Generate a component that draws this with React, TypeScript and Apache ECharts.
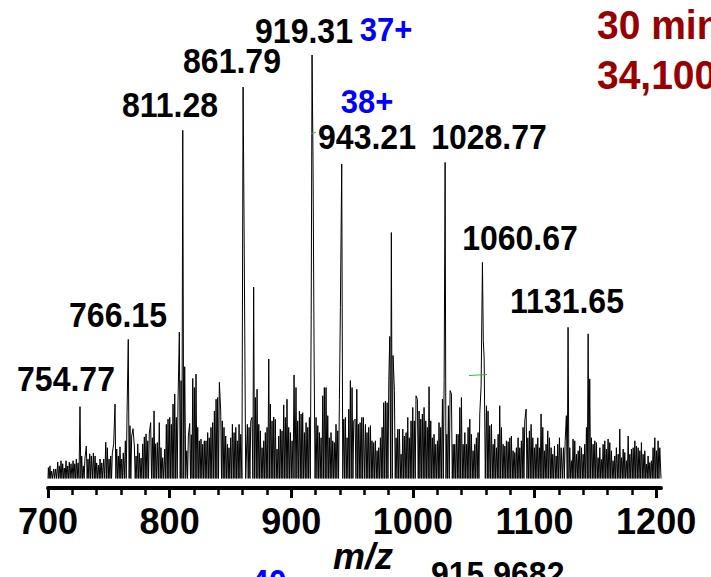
import React, { useEffect, useRef } from "react";
import * as echarts from "echarts";

// ---- data: [m/z, relative intensity %] ----
const peaks700 = [
  [700.3, 4.7], [701.6, 5.1], [703.0, 3.9], [704.7, 4.4], [706.3, 4.4], [708.0, 6.0], [709.3, 5.1], [710.7, 6.3],
  [712.1, 5.6], [713.4, 4.6], [714.8, 6.3], [716.2, 5.1], [717.5, 6.0], [718.9, 5.6], [720.6, 6.3], [722.0, 5.6],
  [723.3, 6.7], [724.7, 5.8], [726.3, 18.8], [727.7, 7.4], [729.0, 5.1], [730.4, 6.9], [731.5, 9.7], [732.9, 6.7],
  [734.3, 7.9], [735.6, 7.4], [737.3, 8.1], [738.7, 7.4], [740.0, 5.8], [741.4, 5.3], [742.8, 6.7], [744.2, 5.8],
  [745.8, 6.7], [747.5, 10.6], [748.8, 9.3], [750.2, 6.7], [751.6, 7.4], [752.9, 8.1], [754.0, 10.2], [755.1, 19.4],
  [756.5, 9.0], [757.8, 7.4], [759.2, 9.5], [760.6, 6.7], [761.9, 8.1], [763.6, 10.9], [765.0, 17.4], [766.0, 34.3],
  [767.4, 14.4], [768.8, 12.0], [769.9, 13.7], [771.0, 9.7], [772.4, 7.4], [773.8, 10.2], [775.1, 8.1], [776.5, 6.9],
  [777.9, 10.2], [779.2, 11.8], [780.6, 12.5], [782.0, 10.9], [783.3, 12.7],
];
const peaks800 = [
  [784.4, 15.1], [785.8, 11.6], [787.2, 17.8], [788.5, 10.2], [789.9, 10.5], [791.5, 15.1], [792.9, 9.3], [794.3, 7.0],
  [796.0, 9.0], [797.3, 14.7], [798.7, 15.9], [800.1, 16.3], [801.4, 14.7], [802.8, 19.4], [804.2, 21.7], [805.5, 16.3],
  [806.9, 20.1], [808.0, 36.0], [809.4, 24.8], [810.8, 82.6], [812.4, 28.0], [814.1, 8.6], [815.4, 12.0], [816.5, 14.9],
  [817.8, 12.3], [819.0, 25.3], [820.3, 23.2], [821.7, 26.3], [823.1, 14.0], [824.4, 10.9], [825.8, 11.3], [827.2, 10.1],
  [828.5, 10.9], [829.9, 10.9], [831.3, 12.8], [832.6, 11.6], [834.0, 14.0], [835.4, 15.1], [836.8, 17.8], [838.2, 20.5],
  [839.5, 20.9], [840.9, 24.4], [842.0, 17.8], [843.3, 15.5], [844.7, 14.0], [846.1, 12.0], [847.5, 10.1], [848.8, 9.3],
  [850.2, 11.6], [851.6, 14.7], [853.0, 12.8], [854.4, 14.0], [855.7, 10.9], [857.1, 14.7], [858.5, 12.4], [860.4, 92.6],
  [861.2, 60.7], [863.9, 14.7], [865.3, 14.0], [866.7, 15.5], [867.8, 16.3], [869.1, 46.4],
];
const peaks900 = [
  [870.5, 20.9], [871.9, 22.8], [873.3, 14.7], [874.6, 13.2], [876.0, 9.3], [877.4, 10.9], [878.7, 12.8], [880.1, 14.0],
  [881.5, 29.8], [882.8, 19.4], [884.2, 15.5], [885.6, 16.4], [886.9, 15.9], [888.3, 9.0], [889.7, 12.0], [891.0, 13.6],
  [892.4, 13.2], [893.8, 19.2], [895.1, 16.3], [896.5, 20.5], [897.9, 14.0], [899.3, 12.8], [900.7, 10.9], [902.3, 26.1],
  [903.9, 23.2], [905.3, 15.5], [906.7, 17.8], [908.1, 17.1], [909.4, 17.4], [910.8, 12.8], [912.2, 15.1], [913.6, 14.0],
  [914.9, 16.3], [916.4, 40.0], [917.1, 100.0], [917.9, 75.5], [918.8, 29.8], [920.4, 16.3], [921.8, 14.4], [923.1, 12.8],
  [924.5, 11.6], [925.9, 21.3], [927.2, 23.2], [928.6, 23.2], [930.0, 16.7], [931.3, 11.6], [932.7, 12.8], [934.1, 10.9],
  [935.4, 10.5], [936.8, 14.7], [938.2, 13.2], [939.6, 20.5], [940.4, 41.7], [941.5, 74.8], [943.2, 15.9], [944.5, 16.3],
  [945.9, 11.6], [947.3, 18.2], [948.6, 24.8], [950.0, 23.2], [951.4, 15.5],
];
const peaks1000 = [
  [952.5, 15.9], [953.9, 22.8], [955.2, 14.7], [956.6, 15.1], [958.0, 16.3], [959.3, 16.3], [961.0, 14.7], [962.3, 12.8],
  [963.7, 14.0], [965.1, 14.4], [966.4, 10.9], [967.8, 10.5], [969.2, 10.9], [970.6, 8.6], [971.9, 9.3], [973.3, 11.6],
  [974.7, 14.0], [976.0, 19.7], [977.4, 20.1], [978.8, 19.7], [980.2, 24.8], [981.0, 35.0], [982.3, 59.0], [983.7, 30.6],
  [984.8, 22.5], [986.2, 11.6], [987.6, 13.6], [988.9, 13.6], [990.3, 7.8], [991.7, 13.6], [993.0, 12.0], [994.4, 12.8],
  [995.8, 16.3], [997.1, 11.6], [998.5, 15.5], [999.9, 18.6], [1001.2, 15.5], [1002.6, 21.3], [1003.7, 20.5], [1005.1, 17.8],
  [1006.5, 15.9], [1007.8, 17.1], [1009.2, 18.6], [1010.6, 15.5], [1011.9, 14.0], [1013.3, 23.4], [1014.7, 15.5], [1016.0, 11.6],
  [1017.4, 12.4], [1018.8, 10.1], [1020.2, 10.9], [1021.5, 15.1], [1022.9, 14.0], [1024.3, 20.5], [1025.7, 24.8], [1026.5, 75.2],
  [1027.9, 12.4], [1029.2, 19.0], [1030.6, 22.5], [1031.7, 21.7], [1033.1, 10.1], [1034.4, 10.1], [1035.8, 12.4], [1037.2, 12.4],
];
const peaks1050 = [
  [1038.6, 18.6], [1039.9, 20.9], [1041.3, 10.1], [1042.7, 12.8], [1044.0, 10.1], [1045.4, 14.0], [1046.8, 15.9], [1048.1, 12.4],
  [1049.5, 8.6], [1050.9, 10.1], [1052.2, 11.6], [1053.6, 12.8], [1055.0, 17.1], [1056.1, 23.6], [1057.2, 52.1], [1057.9, 34.0],
  [1058.6, 30.0], [1060.5, 19.0], [1061.8, 17.8], [1063.2, 14.4], [1064.6, 14.7], [1066.0, 10.1], [1067.3, 11.3], [1068.7, 9.3],
  [1070.1, 12.4], [1071.4, 19.0], [1072.8, 14.0], [1074.2, 10.1], [1075.6, 9.7], [1076.9, 10.9], [1078.3, 10.7], [1079.7, 11.6],
  [1081.0, 12.0], [1082.4, 8.6], [1083.8, 8.2], [1085.1, 9.3], [1086.5, 11.6], [1087.9, 9.3], [1089.2, 10.9], [1090.6, 14.0],
  [1092.0, 15.5], [1093.1, 18.2], [1094.5, 11.6], [1095.8, 13.2], [1097.2, 14.7], [1098.6, 11.6], [1099.9, 9.3], [1101.3, 10.1],
  [1102.7, 11.6], [1104.0, 9.3], [1105.4, 17.1], [1106.8, 14.0], [1108.1, 8.6], [1109.5, 10.1], [1110.9, 13.2], [1112.3, 11.6],
  [1113.7, 9.3], [1115.0, 7.8], [1116.4, 9.7], [1117.8, 7.4], [1119.1, 10.1], [1120.5, 11.6], [1121.9, 9.3],
];
const peaks1100 = [
  [1123.8, 9.3], [1125.2, 10.9], [1126.2, 16.7], [1127.6, 37.1], [1129.0, 9.3], [1130.4, 6.3], [1131.7, 11.3], [1133.1, 10.9],
  [1134.5, 7.8], [1135.9, 8.6], [1137.2, 9.7], [1138.6, 9.3], [1140.0, 7.8], [1141.3, 10.1], [1142.7, 14.0], [1144.1, 35.6],
  [1145.4, 25.2], [1146.8, 11.6], [1148.2, 10.1], [1149.6, 10.9], [1150.9, 10.5], [1152.3, 7.0], [1153.7, 9.3], [1155.0, 6.6],
  [1156.4, 10.1], [1157.8, 10.9], [1159.1, 9.0], [1160.5, 11.3], [1161.9, 10.5], [1163.2, 8.6], [1164.6, 6.3], [1166.0, 7.4],
  [1167.3, 9.3], [1168.8, 7.8], [1170.1, 13.6], [1171.5, 7.0], [1172.9, 9.0], [1174.2, 8.2], [1175.6, 6.3], [1177.0, 12.0],
  [1178.4, 7.8], [1179.7, 9.0], [1181.1, 9.3], [1182.5, 10.9], [1183.8, 9.7], [1185.2, 9.3], [1186.6, 8.6], [1187.9, 10.5],
  [1189.3, 7.8], [1190.7, 8.6], [1192.0, 5.5], [1193.4, 7.4], [1194.8, 5.9], [1196.1, 6.3], [1197.5, 9.3], [1198.9, 11.6],
  [1200.3, 8.6], [1201.6, 10.9], [1203.0, 9.3],
];

const NOISE_FLOOR = 2.2; // valley level between resolved peaks
const X_MIN = 700;
const X_MAX = 1204;
const MAJOR_TICKS = [700, 800, 900, 1000, 1100, 1200];
const MINOR_TICKS = [
  700, 720, 740, 760, 780, 800, 820, 840, 860, 880, 900, 920, 940, 960, 980, 1000,
  1020, 1040, 1060, 1080, 1100, 1120, 1140, 1160, 1180, 1200,
];

const PEAK_LABELS = ["919.31", "861.79", "811.28", "943.21", "1028.77", "1060.67", "1131.65", "766.15", "754.77"];
const CHARGE_LABELS = ["37+", "38+"];

// label placement (layout only)
const PEAK_LABEL_POS = [
  [304, 31], [232, 61], [170, 105], [367, 137], [489, 137], [520, 238], [567, 301], [118, 315], [66, 379],
];
const CHARGE_LABEL_POS = [[386, 30], [367, 102]];

const FONT = '"Liberation Sans", Arial, Helvetica, sans-serif';

function buildTrace(): number[][] {
  const peaks = [...peaks700, ...peaks800, ...peaks900, ...peaks1000, ...peaks1050, ...peaks1100].sort(
    (a, b) => a[0] - b[0]
  );
  const pts: number[][] = [[X_MIN, NOISE_FLOOR]];
  peaks.forEach((p, i) => {
    if (i > 0) {
      const prev = peaks[i - 1];
      if (p[0] - prev[0] > 1.2) pts.push([(p[0] + prev[0]) / 2, NOISE_FLOOR]);
    }
    pts.push(p);
  });
  pts.push([X_MAX, NOISE_FLOOR]);
  return pts;
}

function textEl(text: string, x: number, y: number, opts: any) {
  return {
    type: "text",
    x,
    y,
    scaleY: opts.scaleY ?? 1.08,
    silent: true,
    z: 100,
    style: {
      text,
      fill: opts.color ?? "#000",
      font: opts.font,
      textAlign: opts.align ?? "center",
      textVerticalAlign: "middle",
      align: opts.align ?? "center",
      verticalAlign: "middle",
    },
  };
}

export default function App() {
  const ref = useRef<HTMLDivElement>(null);

  useEffect(() => {
    if (!ref.current) return;
    const chart = echarts.init(ref.current, null, { renderer: "svg" });
    const peakFont = `bold 32px ${FONT}`;
    const graphics: any[] = [];
    PEAK_LABELS.forEach((t, i) =>
      graphics.push(textEl(t, PEAK_LABEL_POS[i][0], PEAK_LABEL_POS[i][1], { font: peakFont }))
    );
    CHARGE_LABELS.forEach((t, i) =>
      graphics.push(
        textEl(t, CHARGE_LABEL_POS[i][0], CHARGE_LABEL_POS[i][1], { font: `bold 31px ${FONT}`, color: "#0000ff" })
      )
    );
    graphics.push(textEl("30 min", 597, 25, { font: `bold 39px ${FONT}`, color: "#990000", align: "left", scaleY: 1.02 }));
    graphics.push(textEl("34,100", 597, 75, { font: `bold 39px ${FONT}`, color: "#990000", align: "left", scaleY: 1.02 }));
    graphics.push(textEl("m/z", 363, 556, { font: `italic bold 36px ${FONT}`, scaleY: 1.0 }));
    graphics.push(textEl("915.9682", 431, 574, { font: `bold 32px ${FONT}`, align: "left" }));
    graphics.push(textEl("40", 251, 582, { font: `bold 32px ${FONT}`, color: "#0000ff", align: "left" }));
    graphics.push({
      type: "line",
      silent: true,
      z: 101,
      shape: { x1: 469, y1: 375.5, x2: 487, y2: 374.5 },
      style: { stroke: "#33bb33", lineWidth: 1 },
    });
    graphics.push({
      type: "line",
      silent: true,
      z: 101,
      shape: { x1: 311, y1: 133.5, x2: 316, y2: 132.5 },
      style: { stroke: "#33bb33", lineWidth: 1 },
    });

    chart.setOption({
      animation: false,
      backgroundColor: "#ffffff",
      grid: { left: 48, right: 50, top: 55, bottom: 89, containLabel: false, outerBoundsMode: "none" },
      xAxis: [
        {
          type: "value",
          min: X_MIN,
          max: X_MAX,
          position: "bottom",
          axisLine: { show: true, onZero: false, lineStyle: { color: "#000", width: 4 } },
          axisTick: { show: true, customValues: MAJOR_TICKS, length: 10, lineStyle: { color: "#000", width: 3 } },
          axisLabel: {
            show: true,
            customValues: MAJOR_TICKS,
            formatter: (v: number) => String(v),
            margin: 15,
            color: "#000",
            fontSize: 36,
            fontWeight: "bold",
            fontFamily: FONT,
          },
          splitLine: { show: false },
          minorTick: { show: false },
        },
        {
          type: "value",
          min: X_MIN,
          max: X_MAX,
          position: "bottom",
          axisLine: { show: false, onZero: false },
          axisTick: { show: true, customValues: MINOR_TICKS, length: 7, lineStyle: { color: "#000", width: 2.5 } },
          axisLabel: { show: false },
          splitLine: { show: false },
        },
      ],
      yAxis: { type: "value", min: 0, max: 100, show: false },
      series: [
        {
          type: "line",
          xAxisIndex: 0,
          data: buildTrace(),
          symbol: "none",
          showSymbol: false,
          silent: true,
          clip: true,
          lineStyle: { color: "#000", width: 1 },
        },
      ],
      graphic: graphics,
    });
    return () => chart.dispose();
  }, []);

  return (
    <div
      ref={ref}
      style={{ position: "fixed", left: 0, top: 0, width: 711, height: 577, background: "#fff" }}
    />
  );
}
